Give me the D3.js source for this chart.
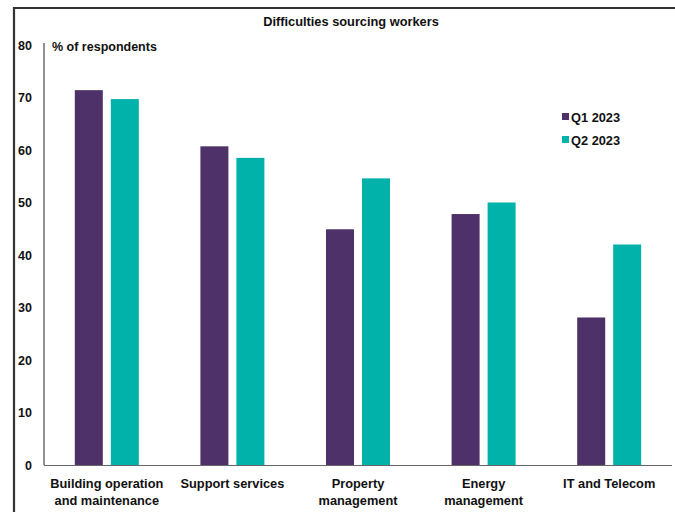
<!DOCTYPE html>
<html>
<head>
<meta charset="utf-8">
<script src="https://cdn.jsdelivr.net/npm/d3@7"></script>
<style>
  html, body { margin: 0; padding: 0; background: #fff; }
  svg { display: block; font-family: "Liberation Sans", Arial, sans-serif; font-weight: bold; }
</style>
</head>
<body>
<svg id="chart" width="675" height="512"></svg>
<script>
// Survey results: share of respondents reporting difficulties sourcing workers
const categories = [
  ["Building operation", "and maintenance"],
  ["Support services"],
  ["Property", "management"],
  ["Energy", "management"],
  ["IT and Telecom"]
];
const seriesNames = ["Q1 2023", "Q2 2023"];
const q1Values = [71.4, 60.7, 44.9, 47.8, 28.1];
const q2Values = [69.7, 58.5, 54.6, 50.0, 42.0];
const yTicks = [0, 10, 20, 30, 40, 50, 60, 70, 80];
const colors = ["#4E3168", "#00B2A9"];

const svg = d3.select("#chart");
const W = 675, H = 512;
const plotBottom = 465, plotTop = 45;

// frame around the chart
svg.append("path")
  .attr("d", `M14,${H} L14,8 L${W},8`)
  .attr("fill", "none")
  .attr("stroke", "#333")
  .attr("stroke-width", 2.2);

const x0 = d3.scaleBand()
  .domain(d3.range(categories.length))
  .range([44, 672]);
const x1 = d3.scaleBand()
  .domain(seriesNames)
  .range([0, 64])
  .paddingInner(8 / 36);
const y = d3.scaleLinear().domain([0, 80]).range([plotBottom, plotTop]);

// title
svg.append("text")
  .attr("x", 351).attr("y", 26)
  .attr("text-anchor", "middle")
  .attr("font-size", 12.8)
  .attr("fill", "#111")
  .text("Difficulties sourcing workers");

// y axis: labels only, plain line
const yAxis = d3.axisLeft(y).tickValues(yTicks).tickSize(0).tickPadding(12);
const gy = svg.append("g").attr("transform", "translate(44,0)").call(yAxis);
gy.select(".domain").attr("stroke", "#222").attr("stroke-width", 1).attr("d", `M0,${y(80) - 2}V${plotBottom}`);
gy.selectAll("text").attr("font-size", 12.5).attr("font-family", "Liberation Sans, Arial, sans-serif").attr("font-weight", "bold").attr("fill", "#111").attr("dy", "0.35em");

svg.append("text")
  .attr("x", 52).attr("y", 51)
  .attr("font-size", 12.5)
  .attr("fill", "#111")
  .text("% of respondents");

// bars
const rows = categories.map((c, i) => ({ i, vals: [q1Values[i], q2Values[i]] }));
const groups = svg.append("g").selectAll("g")
  .data(rows).join("g")
  .attr("transform", d => `translate(${x0(d.i) + x0.bandwidth() / 2 - 32},0)`);
groups.selectAll("rect")
  .data(d => d.vals.map((v, k) => ({ v, k })))
  .join("rect")
  .attr("x", d => x1(seriesNames[d.k]))
  .attr("width", x1.bandwidth())
  .attr("y", d => y(d.v))
  .attr("height", d => plotBottom - y(d.v))
  .attr("fill", d => colors[d.k]);

// x axis baseline
svg.append("line")
  .attr("x1", 44).attr("x2", 672)
  .attr("y1", plotBottom + 0.5).attr("y2", plotBottom + 0.5)
  .attr("stroke", "#666").attr("stroke-width", 1.2);

// category labels
const labels = svg.append("g").selectAll("text")
  .data(categories).join("text")
  .attr("text-anchor", "middle")
  .attr("font-size", 12.8)
  .attr("fill", "#111")
  .attr("transform", (d, i) => `translate(${x0(i) + x0.bandwidth() / 2},488)`);
labels.selectAll("tspan")
  .data(d => d).join("tspan")
  .attr("x", 0)
  .attr("dy", (d, k) => k === 0 ? 0 : 17)
  .text(d => d);

// legend
const legend = svg.append("g").selectAll("g")
  .data(seriesNames).join("g")
  .attr("transform", (d, k) => `translate(562,${117 + k * 23})`);
legend.append("rect")
  .attr("x", 0).attr("y", -4).attr("width", 7).attr("height", 7)
  .attr("fill", (d, k) => colors[k]);
legend.append("text")
  .attr("x", 9).attr("y", 4.5)
  .attr("font-size", 12.8)
  .attr("fill", "#111")
  .text(d => d);
</script>
</body>
</html>
